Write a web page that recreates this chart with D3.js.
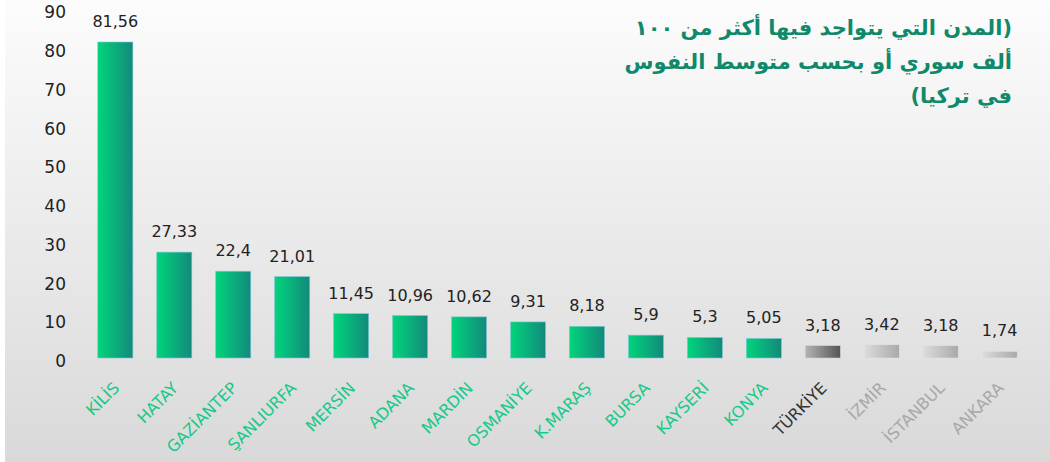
<!DOCTYPE html>
<html>
<head>
<meta charset="utf-8">
<script src="https://cdn.jsdelivr.net/npm/d3@7/dist/d3.min.js"></script>
<style>
  html, body { margin: 0; padding: 0; background: #ffffff; }
  svg { display: block; }
</style>
</head>
<body>
<svg id="chart" width="1050" height="462"></svg>
<script>
// ---- data ----
const categories = ["KİLİS", "HATAY", "GAZİANTEP", "ŞANLIURFA", "MERSİN", "ADANA", "MARDİN", "OSMANİYE", "K.MARAŞ", "BURSA", "KAYSERİ", "KONYA", "TÜRKİYE", "İZMİR", "İSTANBUL", "ANKARA"];
const values = [81.56, 27.33, 22.4, 21.01, 11.45, 10.96, 10.62, 9.31, 8.18, 5.9, 5.3, 5.05, 3.18, 3.42, 3.18, 1.74];
const valueLabels = ["81,56", "27,33", "22,4", "21,01", "11,45", "10,96", "10,62", "9,31", "8,18", "5,9", "5,3", "5,05", "3,18", "3,42", "3,18", "1,74"];
// group: "high" = above 100k Syrians, "avg" = Türkiye average, "low" = others
const groups = ["high", "high", "high", "high", "high", "high", "high", "high", "high", "high", "high", "high", "avg", "low", "low", "low"];
const yTicks = [0, 10, 20, 30, 40, 50, 60, 70, 80, 90];
const titleLines = ["(المدن التي يتواجد فيها أكثر من ١٠٠", "ألف سوري أو بحسب متوسط النفوس", "في تركيا)"];

// ---- setup ----
const svg = d3.select("#chart");
const W = 1050, H = 462;
const defs = svg.append("defs");

const bg = defs.append("linearGradient").attr("id", "bg").attr("x1", 0).attr("y1", 0).attr("x2", 0).attr("y2", 1);
bg.append("stop").attr("offset", "0%").attr("stop-color", "#fcfcfc");
bg.append("stop").attr("offset", "100%").attr("stop-color", "#d9d9d9");

function hGrad(id, c1, c2) {
  const g = defs.append("linearGradient").attr("id", id).attr("x1", 0).attr("y1", 0).attr("x2", 1).attr("y2", 0);
  g.append("stop").attr("offset", "0%").attr("stop-color", c1);
  g.append("stop").attr("offset", "100%").attr("stop-color", c2);
}
hGrad("gHigh", "#00d57b", "#13897c");
hGrad("gAvg", "#b4b4b4", "#555555");
hGrad("gLow", "#dcdcdc", "#a9a9a9");

const fillFor = { high: "url(#gHigh)", avg: "url(#gAvg)", low: "url(#gLow)" };
const strokeFor = { high: "#7fc7d8", avg: "#cfcfcf", low: "#e2e2e2" };
const labelColor = { high: "#16c98a", avg: "#333333", low: "#a8a8a8" };

svg.append("rect").attr("x", 0).attr("y", 0).attr("width", W).attr("height", H).attr("fill", "#ffffff");
svg.append("rect").attr("x", 5).attr("y", 0).attr("width", W - 5).attr("height", H).attr("fill", "url(#bg)");

// ---- scales ----
const x = d3.scaleBand().domain(categories).range([86, 1029]).paddingInner(0.405).paddingOuter(0.2);
const y = d3.scaleLinear().domain([0, 90]).range([358, 9.3]);

// ---- y axis ----
const yAxis = svg.append("g").attr("transform", "translate(66,0)")
  .call(d3.axisLeft(y).tickValues(yTicks).tickSize(0).tickPadding(0).tickFormat(d3.format("d")));
yAxis.select(".domain").remove();
yAxis.selectAll("text")
  .attr("font-family", "'DejaVu Sans', sans-serif")
  .attr("font-size", 17)
  .attr("fill", "#222")
  .attr("dy", "0.62em")
  .attr("transform", "translate(0,-2)");

// ---- bars ----
const idx = d3.range(categories.length);
svg.append("g").selectAll("rect").data(idx).join("rect")
  .attr("x", i => x(categories[i]))
  .attr("y", i => y(values[i]))
  .attr("width", x.bandwidth())
  .attr("height", i => y(0) - y(values[i]))
  .attr("fill", i => fillFor[groups[i]])
  .attr("stroke", i => strokeFor[groups[i]])
  .attr("stroke-width", 0.6);

// ---- value labels ----
svg.append("g").selectAll("text").data(idx).join("text")
  .attr("x", i => x(categories[i]) + x.bandwidth() / 2)
  .attr("y", i => y(values[i]) - 15)
  .attr("text-anchor", "middle")
  .attr("font-family", "'DejaVu Sans', sans-serif")
  .attr("font-size", 16)
  .attr("fill", "#222")
  .text(i => valueLabels[i]);

// ---- category labels ----
svg.append("g").selectAll("text").data(idx).join("text")
  .attr("transform", i => `translate(${x(categories[i]) + x.bandwidth() / 2 + 5},389) rotate(-45)`)
  .attr("text-anchor", "end")
  .attr("font-family", "'DejaVu Sans', sans-serif")
  .attr("font-size", 16)
  .attr("fill", i => labelColor[groups[i]])
  .text(i => categories[i]);

// ---- title ----
svg.append("g").selectAll("text").data(titleLines).join("text")
  .attr("x", 1012)
  .attr("y", (d, i) => 35 + i * 34)
  .attr("direction", "rtl")
  .attr("text-anchor", "start")
  .attr("font-family", "'DejaVu Sans', sans-serif")
  .attr("font-weight", "bold")
  .attr("font-size", 21)
  .attr("fill", "#10896b")
  .text(d => d);
</script>
</body>
</html>
